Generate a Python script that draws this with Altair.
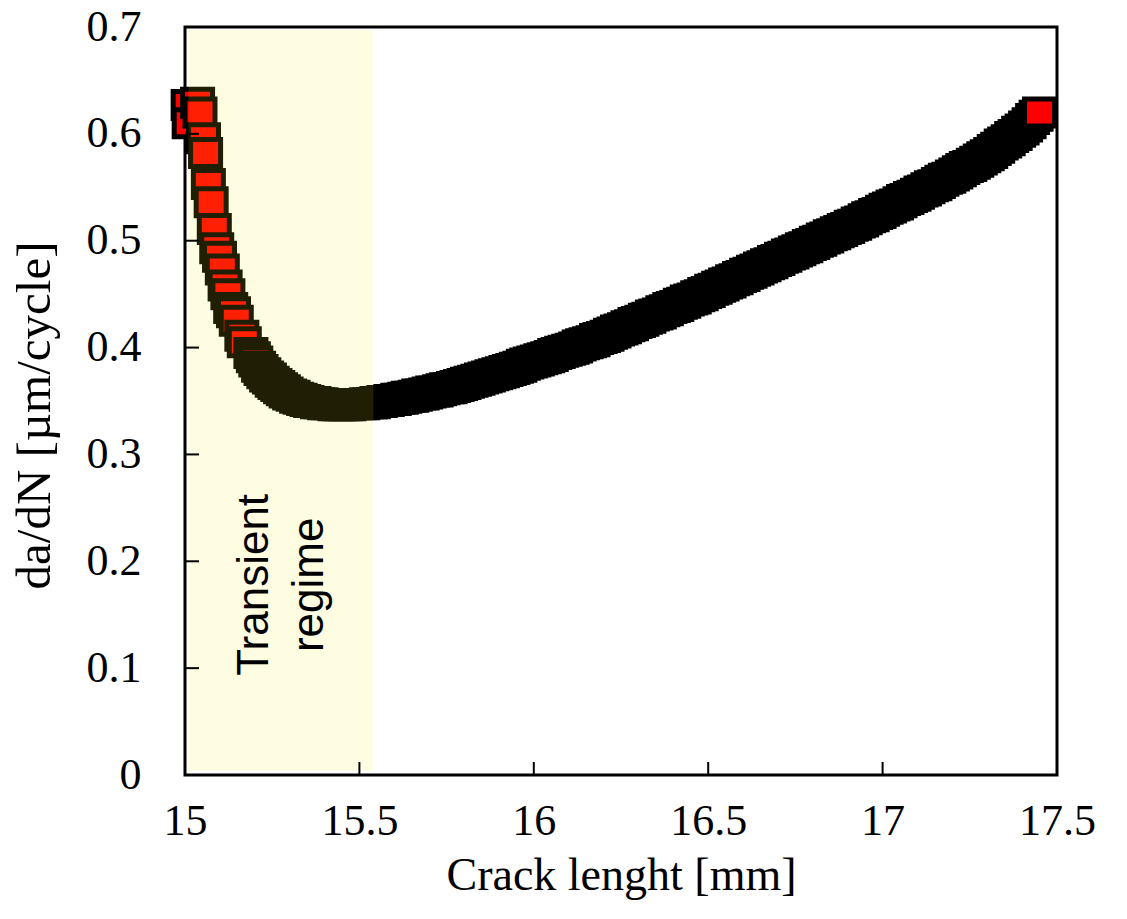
import altair as alt
import pandas as pd

# Crack length [mm] and growth rate da/dN [um/cycle]
crack_mm = [
    15.009, 15.012, 15.036, 15.043, 15.053, 15.059, 15.067, 15.075, 15.084, 15.091,
    15.099, 15.107, 15.115, 15.123, 15.131, 15.139, 15.147, 15.163, 15.170, 15.189,
    15.196, 15.203, 15.211, 15.218, 15.226, 15.234, 15.242, 15.250, 15.258, 15.266,
    15.274, 15.282, 15.290,
    15.30, 15.31, 15.32, 15.33, 15.34, 15.35, 15.36, 15.37, 15.38, 15.39,
    15.40, 15.41, 15.42, 15.43, 15.44, 15.45, 15.46, 15.47, 15.48, 15.49,
    15.50, 15.51, 15.52, 15.53, 15.54, 15.55, 15.56, 15.57, 15.58, 15.59,
    15.60, 15.61, 15.62, 15.63, 15.64, 15.65, 15.66, 15.67, 15.68, 15.69,
    15.70, 15.71, 15.72, 15.73, 15.74, 15.75, 15.76, 15.77, 15.78, 15.79,
    15.80, 15.81, 15.82, 15.83, 15.84, 15.85, 15.86, 15.87, 15.88, 15.89,
    15.90, 15.91, 15.92, 15.93, 15.94, 15.95, 15.96, 15.97, 15.98, 15.99,
    16.00, 16.01, 16.02, 16.03, 16.04, 16.05, 16.06, 16.07, 16.08, 16.09,
    16.10, 16.11, 16.12, 16.13, 16.14, 16.15, 16.16, 16.17, 16.18, 16.19,
    16.20, 16.21, 16.22, 16.23, 16.24, 16.25, 16.26, 16.27, 16.28, 16.29,
    16.30, 16.31, 16.32, 16.33, 16.34, 16.35, 16.36, 16.37, 16.38, 16.39,
    16.40, 16.41, 16.42, 16.43, 16.44, 16.45, 16.46, 16.47, 16.48, 16.49,
    16.50, 16.51, 16.52, 16.53, 16.54, 16.55, 16.56, 16.57, 16.58, 16.59,
    16.60, 16.61, 16.62, 16.63, 16.64, 16.65, 16.66, 16.67, 16.68, 16.69,
    16.70, 16.71, 16.72, 16.73, 16.74, 16.75, 16.76, 16.77, 16.78, 16.79,
    16.80, 16.81, 16.82, 16.83, 16.84, 16.85, 16.86, 16.87, 16.88, 16.89,
    16.90, 16.91, 16.92, 16.93, 16.94, 16.95, 16.96, 16.97, 16.98, 16.99,
    17.00, 17.01, 17.02, 17.03, 17.04, 17.05, 17.06, 17.07, 17.08, 17.09,
    17.10, 17.11, 17.12, 17.13, 17.14, 17.15, 17.16, 17.17, 17.18, 17.19,
    17.20, 17.21, 17.22, 17.23, 17.24, 17.25, 17.26, 17.27, 17.28, 17.29,
    17.30, 17.31, 17.32, 17.33, 17.34, 17.35, 17.36, 17.37, 17.38, 17.39,
    17.40, 17.41, 17.42, 17.43, 17.44, 17.45,
]
dadn = [
    0.627, 0.610, 0.629, 0.620, 0.596, 0.582, 0.553, 0.536, 0.511, 0.493,
    0.485, 0.473, 0.458, 0.450, 0.437, 0.433, 0.425, 0.411, 0.405, 0.395,
    0.391, 0.387, 0.382, 0.379, 0.376, 0.373, 0.371, 0.368, 0.366, 0.364,
    0.362, 0.360, 0.358,
    0.356, 0.355, 0.353, 0.352, 0.351, 0.350, 0.349, 0.349, 0.348, 0.348,
    0.347, 0.347, 0.347, 0.346, 0.346, 0.346, 0.346, 0.346, 0.347, 0.347,
    0.347, 0.347, 0.348, 0.348, 0.348, 0.349, 0.349, 0.350, 0.350, 0.351,
    0.351, 0.352, 0.352, 0.353, 0.354, 0.354, 0.355, 0.356, 0.356, 0.357,
    0.358, 0.359, 0.359, 0.360, 0.361, 0.362, 0.362, 0.363, 0.364, 0.365,
    0.366, 0.367, 0.368, 0.369, 0.370, 0.371, 0.372, 0.373, 0.374, 0.375,
    0.376, 0.377, 0.378, 0.379, 0.380, 0.381, 0.382, 0.384, 0.385, 0.386,
    0.387, 0.388, 0.389, 0.390, 0.391, 0.392, 0.394, 0.395, 0.396, 0.397,
    0.398, 0.399, 0.400, 0.402, 0.403, 0.404, 0.405, 0.406, 0.408, 0.409,
    0.410, 0.411, 0.413, 0.414, 0.416, 0.417, 0.418, 0.420, 0.421, 0.423,
    0.424, 0.425, 0.427, 0.428, 0.430, 0.431, 0.432, 0.434, 0.435, 0.437,
    0.438, 0.439, 0.441, 0.442, 0.444, 0.445, 0.446, 0.448, 0.449, 0.451,
    0.452, 0.454, 0.455, 0.457, 0.458, 0.460, 0.461, 0.463, 0.464, 0.466,
    0.467, 0.469, 0.470, 0.472, 0.473, 0.475, 0.476, 0.478, 0.479, 0.481,
    0.482, 0.484, 0.485, 0.487, 0.488, 0.490, 0.491, 0.493, 0.494, 0.496,
    0.497, 0.499, 0.500, 0.502, 0.503, 0.505, 0.506, 0.508, 0.509, 0.511,
    0.512, 0.514, 0.515, 0.517, 0.518, 0.520, 0.522, 0.523, 0.525, 0.526,
    0.528, 0.530, 0.531, 0.533, 0.534, 0.536, 0.538, 0.539, 0.541, 0.542,
    0.544, 0.546, 0.547, 0.549, 0.551, 0.552, 0.554, 0.556, 0.558, 0.559,
    0.561, 0.563, 0.565, 0.567, 0.569, 0.570, 0.572, 0.574, 0.576, 0.578,
    0.580, 0.582, 0.585, 0.587, 0.590, 0.592, 0.594, 0.597, 0.599, 0.602,
    0.604, 0.607, 0.610, 0.614, 0.617, 0.620,
]

x_ticks = [15, 15.5, 16, 16.5, 17, 17.5]
y_ticks = [0, 0.1, 0.2, 0.3, 0.4, 0.5, 0.6, 0.7]

shade_x = [15.01, 15.54]
shade_y = [0.004, 0.697]

note_x = [15.20]
note_y = [0.178]
note_text = ["Transient\nregime"]

X_TITLE = "Crack lenght [mm]"
Y_TITLE = "da/dN [µm/cycle]"

W, H = 872, 748
SERIF = "Liberation Serif"

df = pd.DataFrame({"a": crack_mm, "r": dadn, "i": list(range(len(crack_mm)))})
xs = alt.Scale(domain=[15, 17.5], nice=False, zero=False)
ys = alt.Scale(domain=[0, 0.7], nice=False, zero=False)

x_axis = alt.Axis(
    values=x_ticks, labelExpr="'' + datum.value", domain=False, ticks=False, grid=False,
    labelFont=SERIF, labelFontSize=44, labelColor="black", labelPadding=24,
    labelFlush=False, labelOverlap=False,
    titleFont=SERIF, titleFontSize=46, titleFontWeight="normal", titleColor="black",
    titleX=436, titleY=114, titleBaseline="alphabetic", titleAlign="center",
)
y_axis = alt.Axis(
    values=y_ticks, labelExpr="'' + datum.value", domain=False, ticks=False, grid=False,
    labelFont=SERIF, labelFontSize=44, labelColor="black", labelPadding=44,
    labelFlush=False, labelOverlap=False,
    titleFont=SERIF, titleFontSize=49, titleFontWeight="normal", titleColor="black",
    titleX=-136, titleY=388, titleAngle=270, titleBaseline="alphabetic", titleAlign="center",
)


def xenc(field):
    return alt.X(field, scale=xs, axis=x_axis, title=X_TITLE)


def yenc(field):
    return alt.Y(field, scale=ys, axis=y_axis, title=Y_TITLE)


points = alt.Chart(df).mark_point(
    shape="M-1,-0.9H1V0.9H-1Z", filled=True, fill="#ff0000", stroke="#000000",
    strokeWidth=5, size=900, opacity=1, fillOpacity=1, strokeOpacity=1, clip=False,
).encode(
    x=xenc("a:Q"),
    y=yenc("r:Q"),
    order=alt.Order("i:Q"),
)

shade = alt.Chart(pd.DataFrame({"x0": [shade_x[0]], "x1": [shade_x[1]],
                                "y0": [shade_y[0]], "y1": [shade_y[1]]})).mark_rect(
    color="#fff014", opacity=0.13
).encode(
    x=xenc("x0:Q"), x2="x1:Q",
    y=yenc("y0:Q"), y2="y1:Q",
)

note = alt.Chart(pd.DataFrame({"x": note_x, "y": note_y, "t": note_text})).mark_text(
    angle=270, font="Liberation Sans", fontSize=44, lineBreak="\n", lineHeight=55,
    align="center", baseline="middle", color="black",
).encode(
    x=xenc("x:Q"),
    y=yenc("y:Q"),
    text="t:N",
)

yticks = alt.Chart(pd.DataFrame({"v": y_ticks})).mark_rule(color="black", strokeWidth=2).encode(
    y=yenc("v:Q"), x=alt.value(0), x2=alt.value(14),
)
xticks = alt.Chart(pd.DataFrame({"v": x_ticks})).mark_rule(color="black", strokeWidth=2).encode(
    x=xenc("v:Q"), y=alt.value(H), y2=alt.value(H - 13),
)

chart = alt.layer(points, shade, note, yticks, xticks).properties(
    width=W, height=H,
    padding={"left": 185, "top": 27, "right": 70, "bottom": 144},
    autosize=alt.AutoSizeParams(type="none"),
    background="white",
).configure_view(stroke="black", strokeWidth=3)

chart.save("out.html", embed_options={"renderer": "svg", "actions": False})
